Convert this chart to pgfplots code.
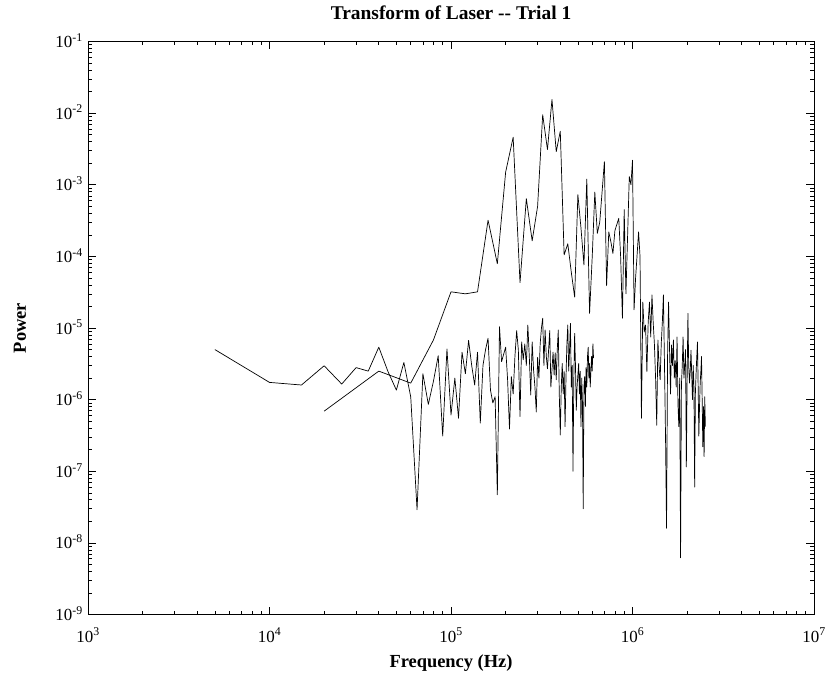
\documentclass[border=0pt]{standalone}
\usepackage{fontspec}
\setmainfont{Liberation Serif}
\usepackage{pgfplots}
\pgfplotsset{compat=1.18}

\begin{document}
\begin{tikzpicture}
\useasboundingbox (0,0) rectangle (829bp,681bp);
\begin{axis}[
  at={(88bp,66.5bp)}, anchor=south west,
  scale only axis, width=726bp, height=573bp,
  xmode=log, ymode=log,
  xmin=1e3, xmax=1e7, ymin=1e-9, ymax=1e-1,
  axis line style={black, line width=0.8bp},
  tick style={black, line width=0.6bp},
  major tick length=8bp, minor tick length=4bp,
  tick align=inside,
  ticklabel style={font=\fontsize{17}{17}\selectfont},
  xticklabel={10\textsuperscript{\pgfmathparse{int(round(\tick/ln(10)))}\pgfmathresult}},
  yticklabel={10\textsuperscript{\pgfmathparse{int(round(\tick/ln(10)))}\pgfmathresult}},
  xticklabel style={anchor=base, inner sep=0pt, yshift=-27.5bp},
  yticklabel style={anchor=base east, inner sep=0pt, xshift=-5bp, yshift=-6bp},
  title={Transform of Laser -{}- Trial 1},
  every axis title shift=0pt,
  title style={font=\fontsize{19.5}{19.5}\selectfont\bfseries, at={(0.5,1)}, anchor=base, yshift=22.4bp},
  xlabel={Frequency (Hz)},
  xlabel style={font=\fontsize{18.5}{18.5}\selectfont\bfseries, at={(0.5,0)}, anchor=center, yshift=-49bp},
  ylabel={Power},
  ylabel style={font=\fontsize{18.5}{18.5}\selectfont\bfseries, at={(-0.0937,0.5)}, anchor=center},
  cycle list={{black},{black}},
  every axis plot/.append style={line width=0.7bp, line join=round, no marks},
]
% series sampled every 5 kHz
\addplot coordinates {
(5000,5.0e-6) (10000,1.74e-6) (15000,1.6e-6) (20000,2.97e-6) (25000,1.65e-6)
(30000,2.8e-6) (35000,2.5e-6) (40000,5.4e-6) (45000,2.45e-6) (50000,1.36e-6)
(55000,3.3e-6) (60000,1.09e-6) (65000,2.9e-8) (70000,2.3e-6) (75000,8.6e-7)
(80000,1.8e-6) (85000,4.1e-6) (90000,3.1e-7) (95000,5.1e-6) (100000,6.1e-7)
(105000,2.0e-6) (110000,5.5e-7) (115000,4.6e-6) (120000,2.3e-6) (125000,6.7e-6)
(130000,3.0e-6) (135000,1.6e-6) (140000,4.6e-6) (145000,4.7e-7) (150000,3.0e-6)
(155000,5.0e-6) (160000,7.2e-6) (165000,1.36e-6) (170000,9.0e-7) (175000,1.1e-6)
(180000,4.7e-8) (185000,1.04e-5) (190000,3.4e-6) (195000,4.3e-6) (200000,5.4e-6)
(205000,1.9e-6) (210000,3.9e-7) (215000,2.1e-6) (220000,1.2e-6) (225000,4.0e-6)
(230000,9.2e-6) (235000,4.9e-6) (240000,5.8e-7) (245000,6.4e-6) (250000,3.6e-6)
(255000,6.0e-6) (260000,3.0e-6) (265000,1.1e-5) (270000,4.0e-6) (275000,1.16e-6)
(280000,6.4e-6) (285000,2.6e-6) (290000,1.5e-6) (295000,6.7e-7) (300000,3.9e-6)
(305000,2.0e-6) (310000,6.0e-6) (315000,1.0e-5) (320000,1.37e-5) (325000,3.0e-6)
(330000,9.4e-6) (335000,4.0e-6) (340000,2.7e-6) (345000,5.0e-6) (350000,9.2e-6)
(355000,1.5e-6) (360000,2.6e-6) (365000,4.6e-6) (370000,2.2e-6) (375000,4.5e-6)
(380000,1.9e-6) (385000,5.0e-6) (390000,9.4e-6) (395000,1.2e-6) (400000,3.2e-7)
(405000,1.5e-6) (410000,3.2e-6) (415000,1.2e-6) (420000,2.5e-6) (425000,4.2e-7)
(430000,2.0e-6) (435000,6.0e-6) (440000,1.1e-5) (445000,2.5e-6) (450000,5.0e-6)
(455000,1.16e-5) (460000,1.5e-6) (465000,3.0e-6) (470000,1.0e-7) (475000,2.0e-6)
(480000,8.4e-6) (485000,3.0e-6) (490000,7.1e-7) (495000,1.5e-6) (500000,2.2e-6)
(505000,3.2e-6) (510000,1.2e-6) (515000,2.5e-6) (520000,4.2e-7) (525000,2.0e-6)
(530000,9.0e-7) (535000,3.0e-8) (540000,1.5e-6) (545000,2.1e-6) (550000,8.0e-7)
(555000,2.8e-6) (560000,1.5e-6) (565000,4.0e-6) (570000,5.4e-6) (575000,2.0e-6)
(580000,3.2e-6) (585000,1.5e-6) (590000,2.5e-6) (595000,4.0e-6) (600000,2.5e-6)
(605000,6.0e-6) (610000,3.8e-6)
};
% series sampled every 20 kHz
\addplot coordinates {
(20000,6.9e-7) (40000,2.5e-6) (60000,1.7e-6) (80000,6.8e-6) (100000,3.2e-5)
(120000,3.0e-5) (140000,3.2e-5) (160000,3.2e-4) (180000,7.9e-5) (200000,1.5e-3)
(220000,4.6e-3) (240000,4.3e-5) (260000,6.4e-4) (280000,1.65e-4) (300000,5.0e-4)
(320000,9.5e-3) (340000,3.1e-3) (360000,1.55e-2) (380000,2.9e-3) (400000,5.6e-3)
(420000,1.05e-4) (440000,1.5e-4) (460000,6.0e-5) (480000,2.7e-5) (500000,7.3e-4)
(520000,2.5e-4) (540000,7.6e-5) (560000,1.2e-3) (580000,1.6e-5) (600000,1.0e-4)
(620000,7.9e-4) (640000,2.1e-4) (660000,3.0e-4) (680000,8.0e-4) (700000,2.1e-3)
(720000,3.9e-5) (740000,2.2e-4) (760000,1.6e-4) (780000,1.1e-4) (800000,2.3e-4)
(820000,2.8e-4) (840000,3.4e-4) (860000,1.0e-4) (880000,1.37e-5) (900000,4.5e-4)
(920000,3.0e-5) (940000,2.0e-4) (960000,1.3e-3) (980000,1.0e-3) (1000000,2.2e-3)
(1020000,1.8e-5) (1040000,5.0e-5) (1060000,1.05e-4) (1080000,2.2e-4) (1100000,1.0e-4)
(1120000,5.5e-7) (1140000,2.3e-5) (1160000,8.8e-6) (1180000,1.1e-5) (1200000,2.45e-6)
(1220000,1.2e-5) (1240000,2.3e-5) (1260000,7.5e-6) (1280000,2.9e-5) (1300000,1.2e-5)
(1320000,6.0e-6) (1340000,2.0e-6) (1360000,4.4e-7) (1380000,6.8e-6) (1400000,3.0e-6)
(1420000,1.9e-6) (1440000,6.0e-6) (1460000,1.2e-5) (1480000,2.9e-5) (1500000,3.2e-6)
(1520000,3.2e-7) (1540000,1.6e-8) (1560000,4.0e-6) (1580000,2.3e-5) (1600000,5.0e-6)
(1620000,1.2e-6) (1640000,5.8e-6) (1660000,3.0e-6) (1680000,6.8e-6) (1700000,2.0e-6)
(1720000,3.5e-6) (1740000,1.5e-6) (1760000,7.5e-6) (1780000,8.8e-7) (1800000,4.2e-7)
(1820000,2.0e-6) (1840000,6.2e-9) (1860000,1.6e-6) (1880000,3.0e-6) (1900000,7.5e-6)
(1920000,2.0e-6) (1940000,3.0e-6) (1960000,5.0e-6) (1980000,1.15e-7) (2000000,2.0e-6)
(2020000,1.6e-5) (2040000,3.0e-6) (2060000,1.7e-6) (2080000,2.5e-6) (2100000,4.9e-6)
(2120000,2.2e-6) (2140000,1.0e-6) (2160000,3.0e-6) (2180000,1.5e-6) (2200000,6.0e-8)
(2220000,1.2e-6) (2240000,2.3e-6) (2260000,4.0e-6) (2280000,6.4e-6) (2300000,1.5e-6)
(2320000,3.1e-7) (2340000,8.0e-7) (2360000,1.7e-6) (2380000,2.5e-6) (2400000,4.0e-6)
(2420000,1.0e-6) (2440000,2.2e-7) (2460000,8.0e-7) (2480000,1.6e-7) (2500000,1.1e-6)
(2520000,4.2e-7)
};
\end{axis}
\end{tikzpicture}
\end{document}
